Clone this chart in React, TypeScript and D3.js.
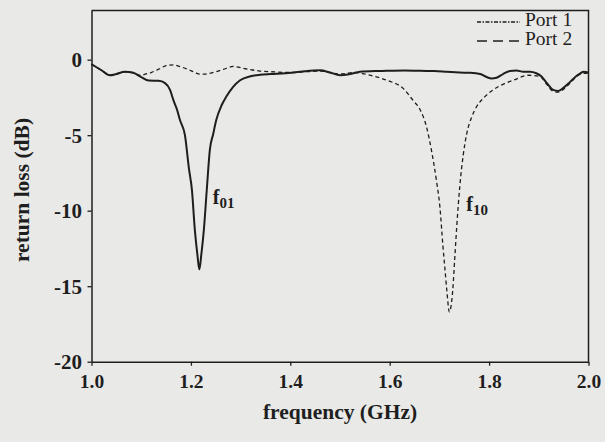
import React, { useEffect, useRef } from 'react';
import * as d3 from 'd3';

// return loss (GHz, dB)
const freqPort1 = [1.0, 1.02, 1.037, 1.05, 1.067, 1.084, 1.1, 1.115, 1.135, 1.148, 1.158, 1.165, 1.172, 1.178, 1.188,
  1.196, 1.202, 1.208, 1.213, 1.217, 1.221, 1.226, 1.232, 1.238, 1.245, 1.251, 1.262, 1.271, 1.285, 1.299, 1.32,
  1.339, 1.36, 1.39, 1.42, 1.46, 1.48, 1.5, 1.52, 1.54, 1.57, 1.594, 1.63, 1.661, 1.69, 1.715, 1.74, 1.762, 1.782,
  1.795, 1.805, 1.815, 1.828, 1.842, 1.855, 1.869, 1.882, 1.895, 1.905, 1.915, 1.929, 1.939, 1.95, 1.963, 1.975,
  1.983, 1.99, 2.0];
const lossPort1 = [-0.3, -0.7, -1.03, -0.95, -0.8, -0.87, -1.15, -1.38, -1.4, -1.55, -2.0, -2.7, -3.3, -4.0, -5.0,
  -7.2, -8.6, -11.3, -12.9, -13.9, -12.9, -11.3, -8.6, -6.0, -4.9, -4.0, -3.0, -2.46, -1.8, -1.36, -1.1,
  -1.0, -0.95, -0.9, -0.8, -0.7, -0.85, -1.03, -0.95, -0.8, -0.75, -0.74, -0.72, -0.74, -0.75, -0.8, -0.85, -0.87, -0.95,
  -1.15, -1.25, -1.2, -0.95, -0.75, -0.72, -0.8, -0.8, -0.9, -1.1, -1.5, -2.0, -2.07, -1.85, -1.47, -1.1,
  -0.92, -0.8, -0.85];

const freqPort2 = [1.0, 1.02, 1.037, 1.05, 1.067, 1.084, 1.1, 1.108, 1.12, 1.131, 1.143, 1.154, 1.165, 1.175, 1.195,
  1.208, 1.218, 1.23, 1.242, 1.255, 1.265, 1.285, 1.31, 1.336, 1.369, 1.4, 1.43, 1.46, 1.5, 1.53, 1.56, 1.594,
  1.627, 1.647, 1.661, 1.674, 1.684, 1.694, 1.701, 1.707, 1.711, 1.715, 1.72, 1.723, 1.727, 1.731, 1.735, 1.741,
  1.748, 1.755, 1.765, 1.775, 1.79, 1.808, 1.83, 1.849, 1.879, 1.902, 1.915, 1.929, 1.939, 1.95, 1.963, 1.975,
  1.99, 2.0];
const lossPort2 = [-0.3, -0.7, -1.03, -0.95, -0.8, -0.87, -1.05, -0.96, -0.85, -0.7, -0.5, -0.36, -0.35, -0.43, -0.65,
  -0.85, -0.96, -0.95, -0.87, -0.75, -0.65, -0.45, -0.6, -0.74, -0.81, -0.85, -0.8, -0.75, -0.95, -0.85, -1.03, -1.36,
  -1.9, -2.7, -3.3, -4.45, -6.0, -8.0, -9.75, -12.3, -13.8, -15.3, -16.7, -16.4, -15.2, -13.1, -11.0, -8.4,
  -6.3, -4.9, -3.8, -3.1, -2.5, -2.0, -1.6, -1.36, -1.03, -1.1, -1.6, -2.1, -2.15, -1.95, -1.55, -1.15,
  -0.9, -0.9];

const xTicks = [1.0, 1.2, 1.4, 1.6, 1.8, 2.0];
const yTicks = [0, -5, -10, -15, -20];
const seriesNames = ['Port 1', 'Port 2'];

export default function App() {
  const svgRef = useRef<SVGSVGElement>(null);

  useEffect(() => {
    const svg = d3.select(svgRef.current);
    svg.selectAll('*').remove();

    const ink = '#1e1e1e';
    const font = '"Liberation Serif", "Times New Roman", serif';

    svg.append('rect').attr('width', 605).attr('height', 442).attr('fill', '#e9e9e7');

    var x = d3.scaleLinear().domain([1.0, 2.0]).range([91.5, 588.5]);
    var y = d3.scaleLinear().domain([-20, 3.25]).range([361.7, 10.6]);

    // axes
    var xAxis = d3.axisBottom(x).tickValues(xTicks).tickSize(4).tickSizeOuter(0)
      .tickFormat(d3.format('.1f') as any);
    var yAxis = d3.axisLeft(y).tickValues(yTicks).tickSize(4).tickSizeOuter(0)
      .tickFormat((d: any) => String(d));

    var gx = svg.append('g').attr('transform', 'translate(0,' + y(-20) + ')').call(xAxis);
    gx.attr('font-size', 19.5);
    gx.selectAll('text').attr('y', 26).attr('dy', 0);
    var gy = svg.append('g').attr('transform', 'translate(' + x(1.0) + ',0)').call(yAxis);
    gy.attr('font-size', 21);
    gy.selectAll('text').attr('x', -9.5).attr('dy', '0.34em');

    [gx, gy].forEach(g => {
      g.attr('font-family', font).attr('font-weight', 'bold');
      g.selectAll('text').attr('fill', ink);
      g.select('.domain').attr('stroke', ink).attr('stroke-width', 1.5);
      g.selectAll('.tick line').attr('stroke', ink).attr('stroke-width', 1.3);
    });

    // frame top and right
    svg.append('path')
      .attr('d', 'M' + x(1.0) + ',' + y(3.25) + 'H' + x(2.0) + 'V' + y(-20))
      .attr('fill', 'none').attr('stroke', ink).attr('stroke-width', 1.5);

    // axis titles
    svg.append('text')
      .attr('x', (x(1.0) + x(2.0)) / 2).attr('y', 419)
      .attr('text-anchor', 'middle').attr('font-family', font).attr('font-size', 21.5).attr('font-weight', 'bold')
      .attr('fill', ink).text('frequency (GHz)');
    svg.append('text')
      .attr('transform', 'translate(29,190) rotate(-90)')
      .attr('text-anchor', 'middle').attr('font-family', font).attr('font-size', 21.5).attr('font-weight', 'bold')
      .attr('fill', ink).text('return loss (dB)');

    // curves
    var line = d3.line<[number, number]>()
      .x(d => x(d[0])).y(d => y(d[1]))
      .curve(d3.curveMonotoneX);

    var port1 = freqPort1.map((f, i) => [f, lossPort1[i]] as [number, number]);
    var port2 = freqPort2.map((f, i) => [f, lossPort2[i]] as [number, number]);

    svg.append('path').attr('d', line(port2)!)
      .attr('fill', 'none').attr('stroke', ink).attr('stroke-width', 1.3).attr('stroke-dasharray', '4,3');
    svg.append('path').attr('d', line(port1)!)
      .attr('fill', 'none').attr('stroke', ink).attr('stroke-width', 2);

    // resonance labels
    var addLabel = (px: number, py: number, sub: string) => {
      var t = svg.append('text').attr('x', px).attr('y', py)
        .attr('font-family', font).attr('font-weight', 'bold').attr('fill', ink);
      t.append('tspan').attr('font-size', 20).text('f');
      t.append('tspan').attr('font-size', 15).attr('dy', 4).text(sub);
    };
    addLabel(x(1.244), 204, '01');
    addLabel(x(1.754), 211, '10');

    // legend
    var legend = svg.append('g');
    seriesNames.forEach((name, i) => {
      var ly = 22 + i * 19;
      legend.append('line')
        .attr('x1', 477).attr('x2', 520).attr('y1', ly).attr('y2', ly)
        .attr('stroke', ink).attr('stroke-width', 1.3)
        .attr('stroke-dasharray', i === 0 ? '4,1.5,1.5,1.5' : '10,6');
      legend.append('text')
        .attr('x', 525).attr('y', ly + 4)
        .attr('font-family', font).attr('font-size', 19.5).attr('fill', ink)
        .text(name);
    });
  }, []);

  return (
    <svg ref={svgRef} width={605} height={442} style={{ position: 'absolute', left: 0, top: 0 }} />
  );
}
